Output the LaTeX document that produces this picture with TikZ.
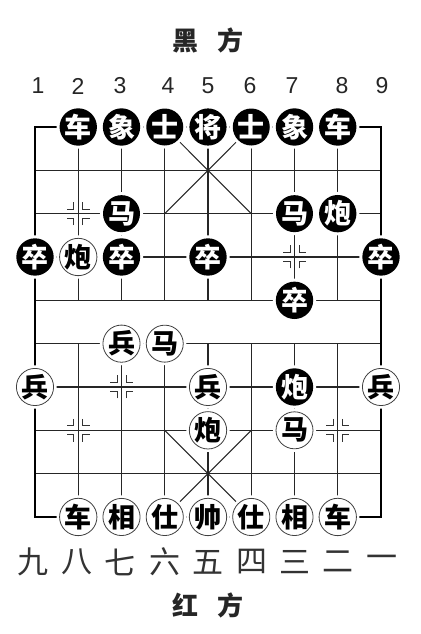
\documentclass[tikz,border=0pt]{standalone}
\usepackage{fontspec}
\setmainfont{Liberation Sans}
\newfontfamily\cjk{Noto Sans CJK SC}
\begin{document}
\begin{tikzpicture}[x=1pt,y=-1pt,
  gridline/.style={line width=1.3pt, black!85},
  frameline/.style={line width=2.7pt, black},
  posmark/.style={line width=1pt, black!80},
  blackpiece/.style={circle, minimum size=37pt, inner sep=0pt, fill=black,
     preaction={draw=white, line width=6pt}, text=white,
     font=\cjk\bfseries\fontsize{27}{27}\selectfont},
  redpiece/.style={circle, minimum size=37pt, inner sep=0pt, fill=white,
     draw=black!75, line width=0.8pt,
     preaction={draw=white, line width=6pt}, text=black,
     font=\cjk\bfseries\fontsize{27}{27}\selectfont},
  colnum/.style={font=\fontsize{23}{23}\selectfont, text=black!85},
  cnnum/.style={font=\cjk\fontsize{31}{31}\selectfont, text=black!80},
  title/.style={font=\cjk\bfseries\fontsize{26}{26}\selectfont, text=black!85}
]
\useasboundingbox (0,0) rectangle (420,634);
\fill[white] (0,0) rectangle (420,634);
% grid coordinates
\foreach \c in {1,...,9}
  \foreach \r in {0,...,9}
    \coordinate (p\c-\r) at ({35+43.25*(\c-1)},{127+43.33*\r});
% horizontal lines
\foreach \r in {1,...,8}
  \draw[gridline] (p1-\r) -- (p9-\r);
% inner vertical lines (river gap)
\foreach \c in {2,...,8} {
  \draw[gridline] (p\c-0) -- (p\c-4);
  \draw[gridline] (p\c-5) -- (p\c-9);
}
% palace diagonals
\draw[gridline, line width=1pt] (p4-0) -- (p6-2);
\draw[gridline, line width=1pt] (p6-0) -- (p4-2);
\draw[gridline, line width=1pt] (p4-7) -- (p6-9);
\draw[gridline, line width=1pt] (p6-7) -- (p4-9);
% frame
\draw[frameline] (p1-0) rectangle (p9-9);
% position marks
\foreach \m in {p2-2, p7-3, p3-6, p2-7, p8-7} {
  \foreach \sx in {-1,1}
    \foreach \sy in {-1,1}
      \draw[posmark] ([shift={(\sx*4.5,\sy*11.5)}]\m) -- ([shift={(\sx*4.5,\sy*4.5)}]\m) -- ([shift={(\sx*11.5,\sy*4.5)}]\m);
}
% black pieces
\node[blackpiece] (bju1) at (p2-0) {车};
\node[blackpiece] (bxi1) at (p3-0) {象};
\node[blackpiece] (bsh1) at (p4-0) {士};
\node[blackpiece] (bjg)  at (p5-0) {将};
\node[blackpiece] (bsh2) at (p6-0) {士};
\node[blackpiece] (bxi2) at (p7-0) {象};
\node[blackpiece] (bju2) at (p8-0) {车};
\node[blackpiece] (bma1) at (p3-2) {马};
\node[blackpiece] (bma2) at (p7-2) {马};
\node[blackpiece] (bpa1) at (p8-2) {炮};
\node[blackpiece] (bzu1) at (p1-3) {卒};
\node[blackpiece] (bzu2) at (p3-3) {卒};
\node[blackpiece] (bzu3) at (p5-3) {卒};
\node[blackpiece] (bzu4) at (p9-3) {卒};
\node[blackpiece] (bzu5) at (p7-4) {卒};
\node[blackpiece] (bpa2) at (p7-6) {炮};
% red pieces
\node[redpiece] (rpa1) at (p2-3) {炮};
\node[redpiece] (rbi1) at (p3-5) {兵};
\node[redpiece] (rma1) at (p4-5) {马};
\node[redpiece] (rbi2) at (p1-6) {兵};
\node[redpiece] (rbi3) at (p5-6) {兵};
\node[redpiece] (rbi4) at (p9-6) {兵};
\node[redpiece] (rpa2) at (p5-7) {炮};
\node[redpiece] (rma2) at (p7-7) {马};
\node[redpiece] (rju1) at (p2-9) {车};
\node[redpiece] (rxi1) at (p3-9) {相};
\node[redpiece] (rsh1) at (p4-9) {仕};
\node[redpiece] (rsh)  at (p5-9) {帅};
\node[redpiece] (rsh2) at (p6-9) {仕};
\node[redpiece] (rxi2) at (p7-9) {相};
\node[redpiece] (rju2) at (p8-9) {车};
% column numbers (top)
\foreach \x/\t [count=\i] in {38/1,78/2,120/3,168/4,208/5,250/6,292/7,342/8,382/9}
  \node[colnum] (top\i) at (\x,86) {\t};
% column numerals (bottom)
\foreach \x/\t [count=\i] in {33/九,77/八,120/七,165/六,208/五,252/四,295/三,338/二,382/一}
  \node[cnnum] (bot\i) at (\x,562) {\t};
% titles
\node[title] (tblack) at (208,40) {黑\hspace{0.7em}方};
\node[title] (tred) at (208,605) {红\hspace{0.7em}方};
\end{tikzpicture}
\end{document}
